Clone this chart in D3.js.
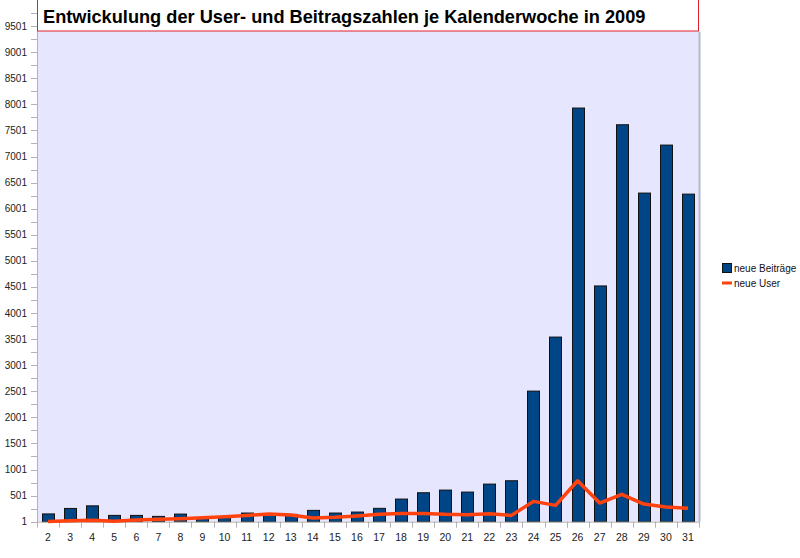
<!DOCTYPE html>
<html><head><meta charset="utf-8">
<script src="https://cdn.jsdelivr.net/npm/d3@7/dist/d3.min.js"></script>
<style>body{margin:0;background:#fff}svg{display:block;font-family:"Liberation Sans",Arial,sans-serif}</style>
</head><body>
<svg id="c" width="800" height="558"></svg>
<script>
const weeks = [2,3,4,5,6,7,8,9,10,11,12,13,14,15,16,17,18,19,20,21,22,23,24,25,26,27,28,29,30,31];
const beitraege = [150,255,305,122,122,103,147,80,90,167,155,141,218,167,186,257,435,556,607,569,722,786,2504,3540,7930,4520,7610,6300,7220,6280];
const user = [5,20,27,8,33,46,58,77,96,122,148,128,71,84,109,142,160,160,142,134,153,122,391,314,786,358,525,339,282,257];
const yTicks = [1,501,1001,1501,2001,2501,3001,3501,4001,4501,5001,5501,6001,6501,7001,7501,8001,8501,9001,9501];
const title = "Entwickulung der User- und Beitragszahlen je Kalenderwoche in 2009";
const seriesNames = ["neue Beiträge","neue User"];

const svg = d3.select("#c");
const L = 37, R = 699, T = 0, B = 521.7;
const x = d3.scaleBand().domain(weeks).range([L, R]).paddingInner(0.45).paddingOuter(0.225);
const xb = d3.scaleBand().domain(weeks).range([L, R]);
const y = d3.scaleLinear().domain([1, 10001]).range([B, T]);

svg.append("rect").attr("x", L).attr("y", T).attr("width", R - L).attr("height", B - T).attr("fill", "#e6e6ff");
svg.append("line").attr("x1", R + 0.5).attr("x2", R + 0.5).attr("y1", 32).attr("y2", B).attr("stroke", "#b8b8c8").attr("stroke-width", 2);

// bars
svg.append("g").selectAll("rect").data(weeks).join("rect")
  .attr("x", d => Math.round(x(d)) + 0.5)
  .attr("width", Math.round(x.bandwidth()))
  .attr("y", (d, i) => y(beitraege[i]))
  .attr("height", (d, i) => B - y(beitraege[i]))
  .attr("fill", "#004586").attr("stroke", "#111").attr("stroke-width", 1);

// y axis
const minor = d3.range(1, 9752, 250);
const ya = svg.append("g");
ya.append("line").attr("x1", L + 0.5).attr("x2", L + 0.5).attr("y1", 0).attr("y2", B + 4).attr("stroke", "#b3b3b3");
ya.selectAll(".mn").data(minor).join("line")
  .attr("x1", 31).attr("x2", L).attr("y1", d => Math.round(y(d)) + 0.5).attr("y2", d => Math.round(y(d)) + 0.5)
  .attr("stroke", "#b3b3b3");
ya.selectAll("text").data(yTicks).join("text")
  .attr("x", 27).attr("y", d => y(d) + 3.5).attr("text-anchor", "end")
  .attr("font-size", 10).attr("fill", "#222").text(d => d);

// x axis
const xa = svg.append("g");
xa.append("line").attr("x1", L).attr("x2", R).attr("y1", B + 0.5).attr("y2", B + 0.5).attr("stroke", "#b3b3b3");
xa.selectAll(".tk").data(weeks.concat([null])).join("line")
  .attr("x1", (d, i) => Math.round(L + i * xb.bandwidth()) + 0.5)
  .attr("x2", (d, i) => Math.round(L + i * xb.bandwidth()) + 0.5)
  .attr("y1", B).attr("y2", B + 6).attr("stroke", "#b3b3b3");
xa.selectAll("text").data(weeks).join("text")
  .attr("x", d => xb(d) + xb.bandwidth() / 2).attr("y", 541).attr("text-anchor", "middle")
  .attr("font-size", 10.5).attr("fill", "#222").text(d => d);

// line
const line = d3.line().x((d, i) => xb(weeks[i]) + xb.bandwidth() / 2).y(d => y(d));
svg.append("path").datum(user).attr("d", line).attr("fill", "none")
  .attr("stroke", "#ff420e").attr("stroke-width", 3.5).attr("stroke-linejoin", "round");

// title
svg.append("rect").attr("x", L + 0.5).attr("y", -1).attr("width", R - L - 1).attr("height", 32).attr("fill", "#fff").attr("stroke", "#e0202a").attr("stroke-width", 1);
svg.append("text").attr("x", 43).attr("y", 23).attr("font-size", 18.2).attr("font-weight", "bold").attr("fill", "#000").text(title);

// legend
const lg = svg.append("g");
lg.append("rect").attr("x", 722.5).attr("y", 263.5).attr("width", 9).attr("height", 9).attr("fill", "#004586").attr("stroke", "#111");
lg.append("line").attr("x1", 722).attr("x2", 732).attr("y1", 283).attr("y2", 283).attr("stroke", "#ff420e").attr("stroke-width", 3);
lg.selectAll("text").data(seriesNames).join("text")
  .attr("x", 734).attr("y", (d, i) => 272 + i * 15).attr("font-size", 10).attr("fill", "#111").text(d => d);
</script>
</body></html>
